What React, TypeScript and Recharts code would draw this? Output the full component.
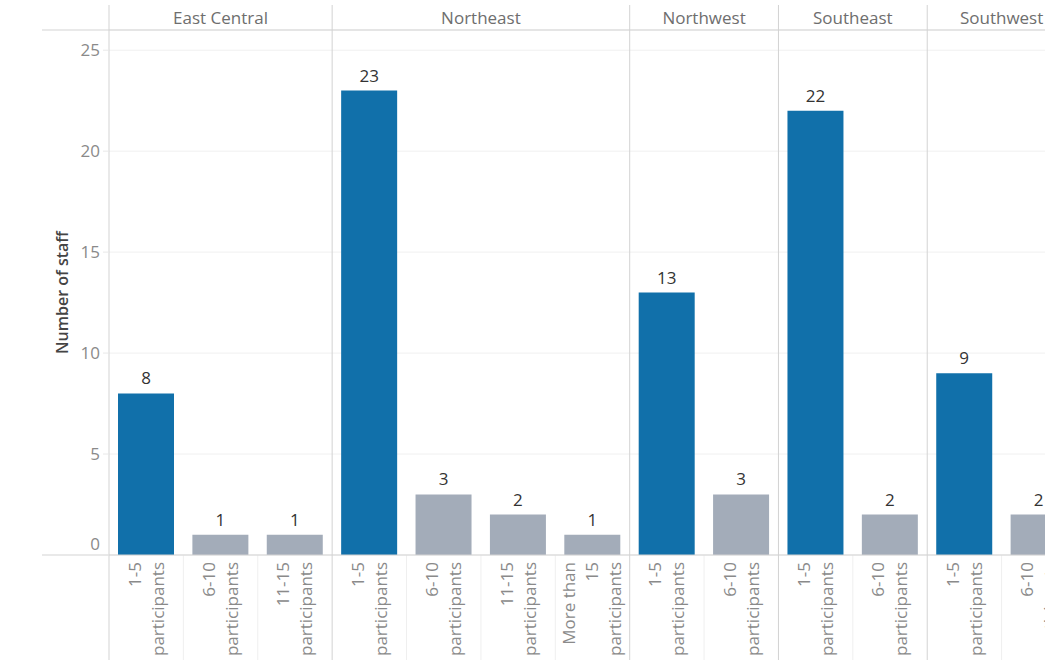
import React from "react";
import {
  BarChart,
  Bar,
  XAxis,
  YAxis,
  CartesianGrid,
  Cell,
  LabelList,
  ReferenceLine,
} from "recharts";

const REGIONS = ["East Central", "Northeast", "Northwest", "Southeast", "Southwest"];
// participant band of every bar, left to right
const GROUPS = [
  "1-5 participants",
  "6-10 participants",
  "11-15 participants",
  "1-5 participants",
  "6-10 participants",
  "11-15 participants",
  "More than 15 participants",
  "1-5 participants",
  "6-10 participants",
  "1-5 participants",
  "6-10 participants",
  "1-5 participants",
  "6-10 participants",
];
const GROUP_REGION = [0, 0, 0, 1, 1, 1, 1, 2, 2, 3, 3, 4, 4];
const STAFF = [8, 1, 1, 23, 3, 2, 1, 13, 3, 22, 2, 9, 2];
const Y_TICKS = [0, 5, 10, 15, 20, 25];

const WRAPPED: Record<string, string[]> = {
  "1-5 participants": ["1-5", "participants"],
  "6-10 participants": ["6-10", "participants"],
  "11-15 participants": ["11-15", "participants"],
  "More than 15 participants": ["More than", "15", "participants"],
};

const rows = STAFF.map((v, i) => ({
  key: `${REGIONS[GROUP_REGION[i]]}|${GROUPS[i]}`,
  region: GROUP_REGION[i],
  group: GROUPS[i],
  staff: v,
}));

const W = 1090;
const H = 660;
const Y_AXIS_W = 109;
const RIGHT = 14;
const TOP = 30;
const X_AXIS_H = 105;
const STEP = (W - Y_AXIS_W - RIGHT) / rows.length;

const FONT = "'Open Sans', sans-serif";
const BLUE = "#1170aa";
const GREY = "#a3acb9";
const RULE = "#d3d3d3";

const GroupTick = (props: any) => {
  const { x, y, index } = props;
  const lines = WRAPPED[rows[index].group];
  return (
    <g>
      {lines.map((ln, j) => {
        const lx = x + (j - (lines.length - 1) / 2) * 23;
        return (
          <text
            key={j}
            x={lx}
            y={y}
            transform={`rotate(-90, ${lx}, ${y})`}
            textAnchor="end"
            dy="0.35em"
            fontSize={17}
            fontFamily={FONT}
            fill="#8a8a8a"
          >
            {ln}
          </text>
        );
      })}
    </g>
  );
};

const StaffTick = (props: any) => {
  const { x, y, payload } = props;
  return (
    <text
      x={x}
      y={payload.value === 0 ? y - 11 : y}
      dy="0.35em"
      textAnchor="end"
      fontSize={17}
      fontFamily={FONT}
      fill="#8a8a8a"
    >
      {payload.value}
    </text>
  );
};

// vertical rule at the start of a region pane plus the pane header
const paneShape = (name: string, count: number) => (p: any) => (
  <g>
    <line x1={p.x1} x2={p.x1} y1={5} y2={H} stroke={RULE} />
    <text
      x={p.x1 + (count * STEP) / 2}
      y={24}
      textAnchor="middle"
      fontSize={17}
      fontFamily={FONT}
      fill="#6e6e6e"
    >
      {name}
    </text>
  </g>
);

const dividerShape = (p: any) => (
  <line x1={p.x1} x2={p.x1} y1={p.y1} y2={H} stroke="#efefef" />
);

const ruleShape = (p: any) => (
  <line x1={42} x2={p.x2} y1={p.y1} y2={p.y1} stroke={RULE} />
);

export default function App() {
  return (
    <div
      style={{
        position: "absolute",
        left: 0,
        top: 0,
        width: 1045,
        height: 660,
        overflow: "hidden",
        background: "#fff",
      }}
    >
      <BarChart
        width={W}
        height={H}
        data={rows}
        margin={{ top: TOP, right: RIGHT, bottom: 0, left: 0 }}
      >
        <CartesianGrid vertical={false} stroke="#f0f0f0" />
        <XAxis
          dataKey="key"
          interval={0}
          height={X_AXIS_H}
          axisLine={false}
          tickLine={false}
          tickSize={0}
          tickMargin={7}
          tick={<GroupTick />}
        />
        <YAxis
          width={Y_AXIS_W}
          domain={[0, 26]}
          ticks={Y_TICKS}
          allowDataOverflow
          axisLine={false}
          tickLine={{ stroke: "#e8e8e8" }}
          tickSize={6}
          tickMargin={3}
          tick={<StaffTick />}
          label={() => (
            <text
              x={62}
              y={(TOP + H - X_AXIS_H) / 2}
              transform={`rotate(-90, 62, ${(TOP + H - X_AXIS_H) / 2})`}
              textAnchor="middle"
              dy="0.35em"
              fontSize={16}
              fontWeight={600}
              fontFamily={FONT}
              fill="#444"
            >
              Number of staff
            </text>
          )}
        />
        {rows.map((r, i) =>
          i > 0 && rows[i - 1].region === r.region ? (
            <ReferenceLine key={r.key} x={r.key} position="start" shape={dividerShape} />
          ) : null
        )}
        <ReferenceLine y={0} shape={ruleShape} />
        <ReferenceLine y={26} shape={ruleShape} />
        {rows.map((r, i) =>
          i === 0 || rows[i - 1].region !== r.region ? (
            <ReferenceLine
              key={"pane" + r.key}
              x={r.key}
              position="start"
              shape={paneShape(
                REGIONS[r.region],
                rows.filter((q) => q.region === r.region).length
              )}
            />
          ) : null
        )}
        <Bar dataKey="staff" barSize={56} isAnimationActive={false}>
          {rows.map((r) => (
            <Cell key={r.key} fill={r.group.startsWith("1-5") ? BLUE : GREY} />
          ))}
          <LabelList
            dataKey="staff"
            position="top"
            offset={9}
            fontSize={17}
            fontFamily={FONT}
            fill="#333"
          />
        </Bar>
      </BarChart>
    </div>
  );
}
